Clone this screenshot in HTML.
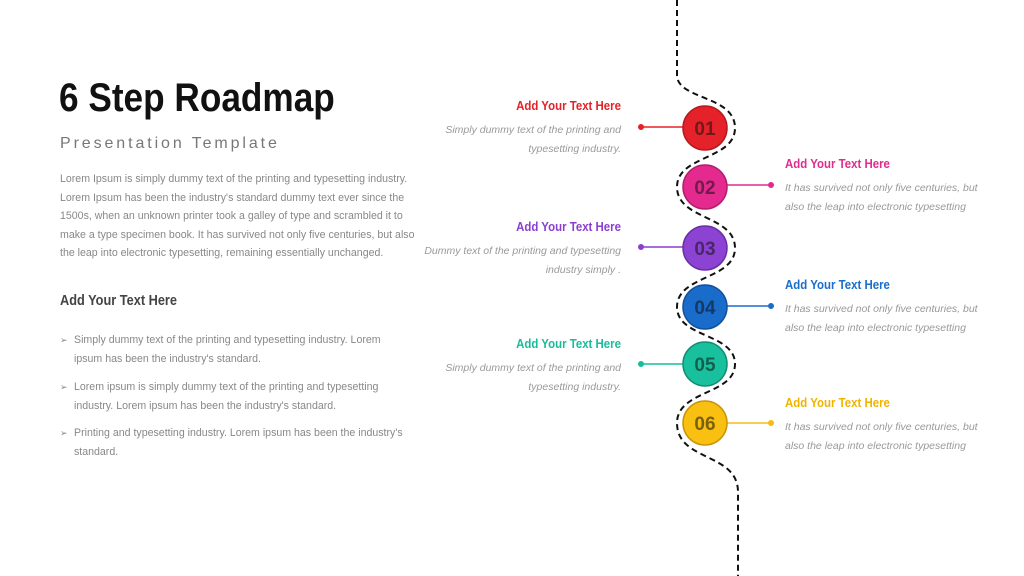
<!DOCTYPE html>
<html><head><style>
body{margin:0;width:1024px;height:576px;background:#fff;position:relative;overflow:hidden;font-family:"Liberation Sans",sans-serif}
.a{position:absolute}
h1{position:absolute;left:59px;top:76px;margin:0;font-size:40px;font-weight:bold;color:#111;letter-spacing:0px;transform:scaleX(.88);transform-origin:left}
.sub{left:60px;top:135px;font-size:16px;color:#777;letter-spacing:2.9px}
.p{left:60px;top:170px;width:365px;font-size:10.6px;line-height:18.5px;color:#888}
.h{left:60px;top:293px;font-size:14.5px;font-weight:bold;color:#444;transform:scaleX(.88);transform-origin:left}
.li{left:60px;font-size:10.6px;line-height:18.5px;color:#888;width:330px;padding-left:14px}
.li:before{content:"➢";position:absolute;left:0;font-size:9px}
.t{font-size:13px;font-weight:bold;transform:scaleX(.88)}
.l .t{transform-origin:right}.r .t{transform-origin:left}
.d{font-size:10.5px;font-style:italic;color:#999;line-height:18.5px;margin-top:8px;white-space:nowrap}
.l{text-align:right;width:240px;left:381px}
.r{left:785px;width:230px}
</style></head><body>
<h1>6 Step Roadmap</h1>
<div class="a sub">Presentation Template</div>
<div class="a p">Lorem Ipsum is simply dummy text of the printing and typesetting industry. Lorem Ipsum has been the industry's standard dummy text ever since the 1500s, when an unknown printer took a galley of type and scrambled it to make a type specimen book. It has survived not only five centuries, but also the leap into electronic typesetting, remaining essentially unchanged.</div>
<div class="a h">Add Your Text Here</div>
<div class="a li" style="top:331px">Simply dummy text of the printing and typesetting industry. Lorem ipsum has been the industry's standard.</div>
<div class="a li" style="top:378px">Lorem ipsum is simply dummy text of the printing and typesetting industry. Lorem ipsum has been the industry's standard.</div>
<div class="a li" style="top:424px">Printing and typesetting industry. Lorem ipsum has been the industry's standard.</div>

<svg class="a" style="left:0;top:0" width="1024" height="576">
<path d="M677,0 L677,75 C677,100 735,95 735,128 C735,160 677,155 677,187 C677,220 735,215 735,248 C735,280 677,275 677,307 C677,338 735,333 735,364 C735,395 677,390 677,423 C677,462 738,452 738,492 L738,576" fill="none" stroke="#111" stroke-width="2" stroke-dasharray="6,4"/>
<g stroke-width="1.5">
<line x1="641" y1="127" x2="705" y2="127" stroke="#e52229"/><circle cx="641" cy="127" r="3" fill="#e52229"/>
<line x1="705" y1="185" x2="771" y2="185" stroke="#e32a8e"/><circle cx="771" cy="185" r="3" fill="#e32a8e"/>
<line x1="641" y1="247" x2="705" y2="247" stroke="#8a3fd0"/><circle cx="641" cy="247" r="3" fill="#8a3fd0"/>
<line x1="705" y1="306" x2="771" y2="306" stroke="#1a6ec9"/><circle cx="771" cy="306" r="3" fill="#1a6ec9"/>
<line x1="641" y1="364" x2="705" y2="364" stroke="#17bd9b"/><circle cx="641" cy="364" r="3" fill="#17bd9b"/>
<line x1="705" y1="423" x2="771" y2="423" stroke="#f5bd10"/><circle cx="771" cy="423" r="3" fill="#f5bd10"/>
</g>
<g font-family="Liberation Sans" font-weight="bold" font-size="19" text-anchor="middle" fill-opacity=".55" fill="#111">
<circle cx="705" cy="128" r="22" fill="#e5222a" stroke="#b31a20" stroke-width="1.5" fill-opacity="1"/><text x="705" y="135">01</text>
<circle cx="705" cy="187" r="22" fill="#e52a8f" stroke="#b01f6d" stroke-width="1.5" fill-opacity="1"/><text x="705" y="194">02</text>
<circle cx="705" cy="248" r="22" fill="#8c42d2" stroke="#6a2ea5" stroke-width="1.5" fill-opacity="1"/><text x="705" y="255">03</text>
<circle cx="705" cy="307" r="22" fill="#1a6ccb" stroke="#12519c" stroke-width="1.5" fill-opacity="1"/><text x="705" y="314">04</text>
<circle cx="705" cy="364" r="22" fill="#19c09e" stroke="#0f8f75" stroke-width="1.5" fill-opacity="1"/><text x="705" y="371">05</text>
<circle cx="705" cy="423" r="22" fill="#f9bf11" stroke="#c89508" stroke-width="1.5" fill-opacity="1"/><text x="705" y="430">06</text>
</g></svg>

<div class="a l" style="top:98px"><div class="t" style="color:#e52229">Add Your Text Here</div><div class="d">Simply dummy text of the printing and<br>typesetting industry.</div></div>
<div class="a r" style="top:156px"><div class="t" style="color:#e32a8e">Add Your Text Here</div><div class="d">It has survived not only five centuries, but<br>also the leap into electronic typesetting</div></div>
<div class="a l" style="top:219px"><div class="t" style="color:#8a3fd0">Add Your Text Here</div><div class="d">Dummy text of the printing and typesetting<br>industry simply .</div></div>
<div class="a r" style="top:277px"><div class="t" style="color:#1a6ec9">Add Your Text Here</div><div class="d">It has survived not only five centuries, but<br>also the leap into electronic typesetting</div></div>
<div class="a l" style="top:336px"><div class="t" style="color:#17bd9b">Add Your Text Here</div><div class="d">Simply dummy text of the printing and<br>typesetting industry.</div></div>
<div class="a r" style="top:395px"><div class="t" style="color:#f0b400">Add Your Text Here</div><div class="d">It has survived not only five centuries, but<br>also the leap into electronic typesetting</div></div>
</body></html>
